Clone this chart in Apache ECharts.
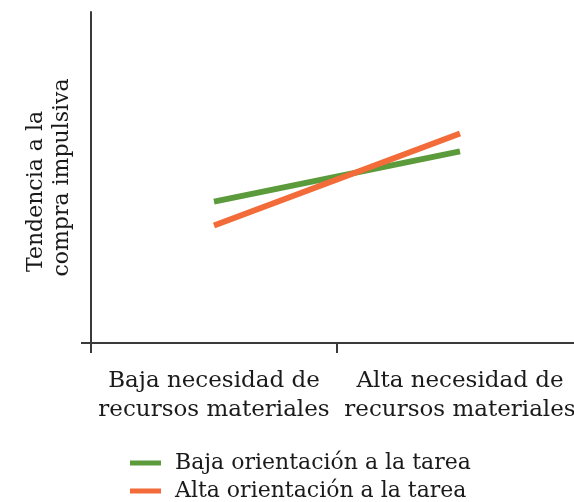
<!DOCTYPE html>
<html>
<head>
<meta charset="utf-8">
<script src="https://cdn.jsdelivr.net/npm/echarts@6/dist/echarts.min.js"></script>
<style>
  html, body { margin: 0; padding: 0; background: #fff; overflow: hidden; }
  #chart { width: 584px; height: 502px; }
</style>
</head>
<body>
<div id="chart"></div>
<script>
// datos
var categorias = ['Baja necesidad de\nrecursos materiales', 'Alta necesidad de\nrecursos materiales'];
var bajaOrientacion = [42.7, 57.9];
var altaOrientacion = [35.5, 63.3];
var nombresSeries = ['Baja orientación a la tarea', 'Alta orientación a la tarea'];

var fuente = 'DejaVu Serif';
var myChart = echarts.init(document.getElementById('chart'));

var option = {
  animation: false,
  color: ['#5b9b3c', '#f26b38'],
  grid: {
    left: 91,
    right: 1,
    top: 12,
    bottom: 159
  },
  legend: {
    orient: 'vertical',
    left: 130,
    top: 452,
    padding: 0,
    icon: 'rect',
    itemWidth: 31,
    itemHeight: 5,
    itemGap: 6,
    data: nombresSeries,
    textStyle: {
      fontFamily: fuente,
      fontSize: 22,
      color: '#1a1a1a',
      padding: [0, 0, 0, 9]
    }
  },
  xAxis: {
    type: 'category',
    data: categorias,
    axisLine: { lineStyle: { color: '#3a3a3a', width: 2 } },
    axisTick: { show: true, length: 10, lineStyle: { color: '#3a3a3a', width: 2 } },
    axisLabel: {
      interval: 0,
      margin: 24,
      fontFamily: fuente,
      fontSize: 23,
      lineHeight: 29,
      color: '#1a1a1a'
    }
  },
  yAxis: {
    type: 'value',
    min: 0,
    max: 100,
    name: 'Tendencia a la    \ncompra impulsiva',
    nameLocation: 'middle',
    nameRotate: 90,
    nameGap: 16,
    nameTextStyle: {
      fontFamily: fuente,
      fontSize: 22,
      lineHeight: 26,
      color: '#1a1a1a'
    },
    axisLine: { show: true, lineStyle: { color: '#3a3a3a', width: 2 } },
    axisTick: { show: true, length: 10, customValues: [0], lineStyle: { color: '#3a3a3a', width: 2 } },
    axisLabel: { show: false },
    splitLine: { show: false }
  },
  series: [
    {
      name: nombresSeries[0],
      type: 'line',
      data: bajaOrientacion,
      symbol: 'none',
      lineStyle: { width: 6 }
    },
    {
      name: nombresSeries[1],
      type: 'line',
      data: altaOrientacion,
      symbol: 'none',
      lineStyle: { width: 6 }
    }
  ]
};

myChart.setOption(option);
window.addEventListener('resize', function () {
  myChart.resize();
});
</script>
</body>
</html>
